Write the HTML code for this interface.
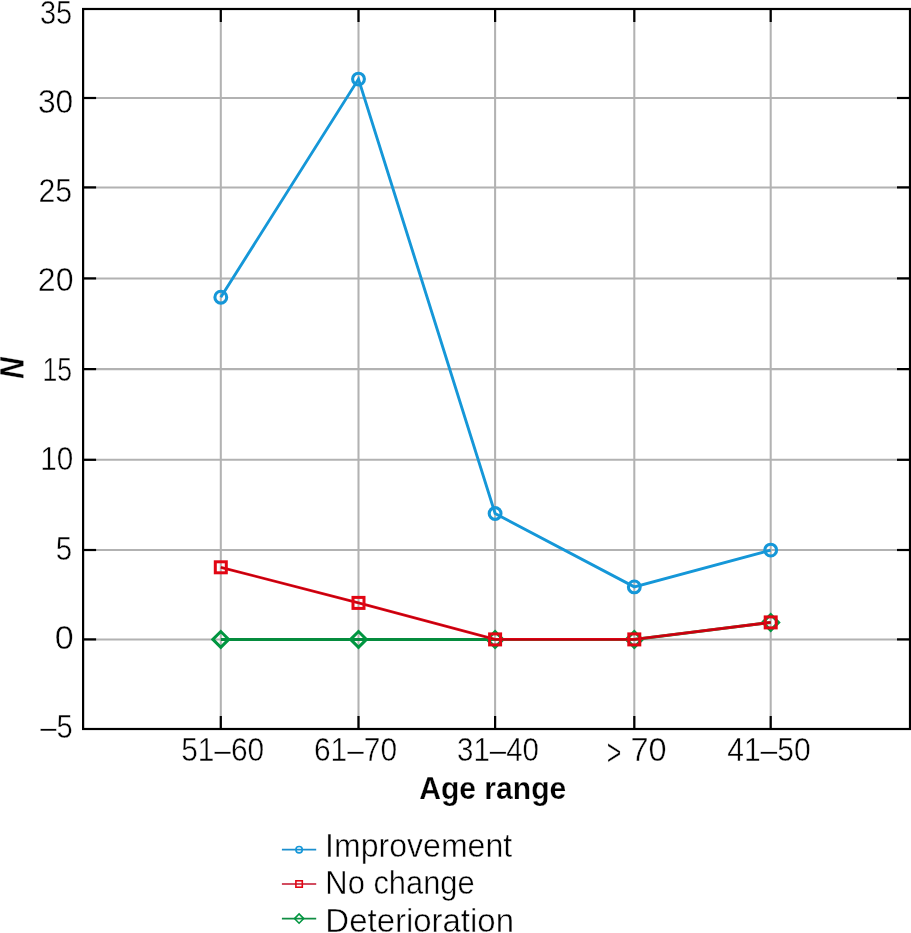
<!DOCTYPE html>
<html><head><meta charset="utf-8"><title>Chart</title>
<style>html,body{margin:0;padding:0;background:#fff}svg{display:block}</style></head>
<body>
<svg width="911" height="933" viewBox="0 0 911 933">
<rect width="911" height="933" fill="#fff"/>
<g stroke="#b2b2b2" stroke-width="2.05" fill="none">
<line x1="83.1" x2="910.0" y1="98.0" y2="98.0"/>
<line x1="83.1" x2="910.0" y1="187.4" y2="187.4"/>
<line x1="83.1" x2="910.0" y1="278.4" y2="278.4"/>
<line x1="83.1" x2="910.0" y1="369.1" y2="369.1"/>
<line x1="83.1" x2="910.0" y1="459.8" y2="459.8"/>
<line x1="83.1" x2="910.0" y1="550.0" y2="550.0"/>
<line x1="83.1" x2="910.0" y1="639.4" y2="639.4"/>
<line x1="220.8" x2="220.8" y1="9.0" y2="729.0"/>
<line x1="358.5" x2="358.5" y1="9.0" y2="729.0"/>
<line x1="495.1" x2="495.1" y1="9.0" y2="729.0"/>
<line x1="634.3" x2="634.3" y1="9.0" y2="729.0"/>
<line x1="770.7" x2="770.7" y1="9.0" y2="729.0"/>
</g>
<g stroke="#009640" stroke-width="3.0" fill="none" stroke-linejoin="miter">
<polyline points="220.8,639.4 358.5,639.4 495.1,639.4 634.3,639.4 770.7,622.4" stroke="#058c3e"/>
<path d="M212.9 639.4L220.8 631.5L228.7 639.4L220.8 647.3Z"/>
<path d="M350.6 639.4L358.5 631.5L366.4 639.4L358.5 647.3Z"/>
<path d="M487.2 639.4L495.1 631.5L503.0 639.4L495.1 647.3Z"/>
<path d="M626.4 639.4L634.3 631.5L642.2 639.4L634.3 647.3Z"/>
<path d="M762.8 622.4L770.7 614.5L778.6 622.4L770.7 630.3Z"/>
</g>
<g stroke="#e20613" stroke-width="3.0" fill="none" stroke-linejoin="miter">
<polyline points="220.8,567.3 358.5,602.9 495.1,639.4 634.3,639.4 770.7,622.4" stroke-width="2.8"/>
<polyline points="220.8,567.3 358.5,602.9 495.1,639.4 634.3,639.4 770.7,622.4" stroke="#b40010" stroke-width="1"/>
<rect x="215.3" y="561.8" width="11.0" height="11.0"/>
<rect x="353.0" y="597.4" width="11.0" height="11.0"/>
<rect x="489.6" y="633.9" width="11.0" height="11.0"/>
<rect x="628.8" y="633.9" width="11.0" height="11.0"/>
<rect x="765.2" y="616.9" width="11.0" height="11.0"/>
</g>
<g stroke="#1597d8" stroke-width="3.1" fill="none" stroke-linejoin="miter">
<polyline points="220.8,297.2 358.5,79.1 495.1,513.5 634.3,586.9 770.7,550.1" stroke-width="2.9"/>
<circle cx="220.8" cy="297.2" r="5.9"/>
<circle cx="358.5" cy="79.1" r="5.9"/>
<circle cx="495.1" cy="513.5" r="5.9"/>
<circle cx="634.3" cy="586.9" r="5.9"/>
<circle cx="770.7" cy="550.1" r="5.9"/>
</g>
<g stroke="#000" stroke-width="2.2" fill="none">
<rect x="83.1" y="9.0" width="826.9" height="720.0"/>
<line x1="220.8" x2="220.8" y1="9.0" y2="22.0"/>
<line x1="220.8" x2="220.8" y1="729.0" y2="716.0"/>
<line x1="358.5" x2="358.5" y1="9.0" y2="22.0"/>
<line x1="358.5" x2="358.5" y1="729.0" y2="716.0"/>
<line x1="495.1" x2="495.1" y1="9.0" y2="22.0"/>
<line x1="495.1" x2="495.1" y1="729.0" y2="716.0"/>
<line x1="634.3" x2="634.3" y1="9.0" y2="22.0"/>
<line x1="634.3" x2="634.3" y1="729.0" y2="716.0"/>
<line x1="770.7" x2="770.7" y1="9.0" y2="22.0"/>
<line x1="770.7" x2="770.7" y1="729.0" y2="716.0"/>
<line x1="83.1" x2="96.1" y1="98.0" y2="98.0"/>
<line x1="910.0" x2="897.0" y1="98.0" y2="98.0"/>
<line x1="83.1" x2="96.1" y1="187.4" y2="187.4"/>
<line x1="910.0" x2="897.0" y1="187.4" y2="187.4"/>
<line x1="83.1" x2="96.1" y1="278.4" y2="278.4"/>
<line x1="910.0" x2="897.0" y1="278.4" y2="278.4"/>
<line x1="83.1" x2="96.1" y1="369.1" y2="369.1"/>
<line x1="910.0" x2="897.0" y1="369.1" y2="369.1"/>
<line x1="83.1" x2="96.1" y1="459.8" y2="459.8"/>
<line x1="910.0" x2="897.0" y1="459.8" y2="459.8"/>
<line x1="83.1" x2="96.1" y1="550.0" y2="550.0"/>
<line x1="910.0" x2="897.0" y1="550.0" y2="550.0"/>
<line x1="83.1" x2="96.1" y1="639.4" y2="639.4"/>
<line x1="910.0" x2="897.0" y1="639.4" y2="639.4"/>
</g>
<g font-family="'Liberation Sans', sans-serif" font-size="32.4" fill="#000" opacity="0.999" stroke="#fff" stroke-width="0.45">
<text x="39.91" y="24.00" textLength="32.26" lengthAdjust="spacingAndGlyphs">35</text>
<text x="37.88" y="113.10" textLength="35.31" lengthAdjust="spacingAndGlyphs">30</text>
<text x="38.51" y="202.20" textLength="33.72" lengthAdjust="spacingAndGlyphs">25</text>
<text x="37.79" y="291.10" textLength="35.73" lengthAdjust="spacingAndGlyphs">20</text>
<text x="42.38" y="380.90" textLength="29.64" lengthAdjust="spacingAndGlyphs">15</text>
<text x="40.36" y="469.70" textLength="33.02" lengthAdjust="spacingAndGlyphs">10</text>
<text x="55.83" y="559.70" textLength="16.38" lengthAdjust="spacingAndGlyphs">5</text>
<text x="54.80" y="648.60" textLength="18.94" lengthAdjust="spacingAndGlyphs">0</text>
<text x="40.22" y="737.80" textLength="32.41" lengthAdjust="spacingAndGlyphs">–5</text>
<text x="181.13" y="761.10" textLength="83.03" lengthAdjust="spacingAndGlyphs">51–60</text>
<text x="313.88" y="761.10" textLength="83.14" lengthAdjust="spacingAndGlyphs">61–70</text>
<text x="457.05" y="761.10" textLength="81.86" lengthAdjust="spacingAndGlyphs">31–40</text>
<text x="606.78" y="765.00" textLength="14.55" lengthAdjust="spacingAndGlyphs" font-size="37">&gt;</text>
<text x="630.38" y="761.10" textLength="36.14" lengthAdjust="spacingAndGlyphs">70</text>
<text x="727.20" y="761.10" textLength="83.48" lengthAdjust="spacingAndGlyphs">41–50</text>
<text x="419.19" y="798.60" textLength="147.06" lengthAdjust="spacingAndGlyphs" font-weight="bold" stroke-width="0.25" font-size="32">Age range</text>
<text x="325.11" y="856.80" textLength="187.07" lengthAdjust="spacingAndGlyphs">Improvement</text>
<text x="325.35" y="893.80" textLength="149.32" lengthAdjust="spacingAndGlyphs">No change</text>
<text x="325.39" y="931.70" textLength="188.59" lengthAdjust="spacingAndGlyphs">Deterioration</text>
<text transform="translate(23.4,368) rotate(-90) scale(0.915,1)" text-anchor="middle" font-weight="bold" font-style="italic" font-size="32.4" stroke-width="0.25">N</text>
</g>
<g fill="none" stroke-width="1.6">
<g stroke="#1597d8"><line x1="281.9" x2="316.2" y1="849.7" y2="849.7" stroke="#1c8fce" stroke-width="1.7"/><circle cx="299.1" cy="849.7" r="3.2"/></g>
<g stroke="#e20613"><line x1="281.9" x2="316.2" y1="884" y2="884" stroke="#c3122b" stroke-width="1.7"/><rect x="295.9" y="880.8" width="6.4" height="6.4"/></g>
<g stroke="#009640"><line x1="281.9" x2="316.2" y1="918.6" y2="918.6" stroke="#108d43" stroke-width="1.7"/><path d="M294.5 918.6L299.1 914.0L303.7 918.6L299.1 923.2Z"/></g>
</g>
</svg>
</body></html>
